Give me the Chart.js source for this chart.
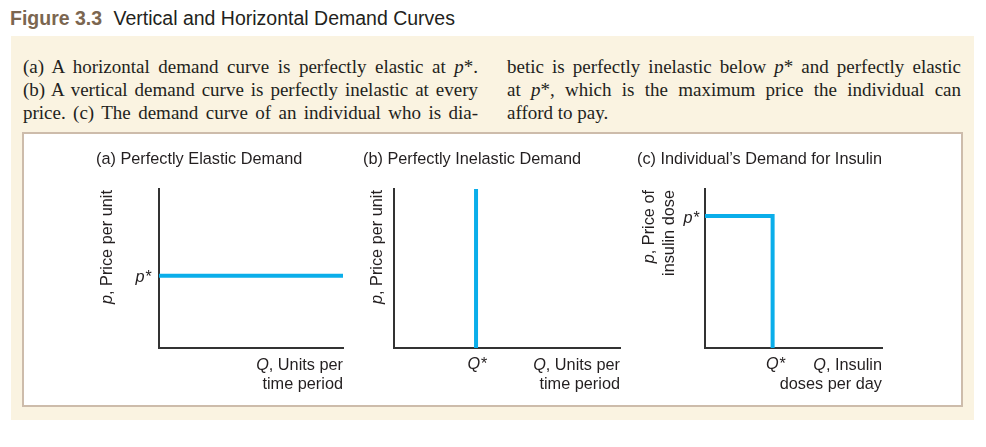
<!DOCTYPE html>
<html><head><meta charset="utf-8">
<script src="https://cdn.jsdelivr.net/npm/chart.js@4.4.1/dist/chart.umd.min.js"></script>
<style>
html,body{margin:0;padding:0;background:#fff;}
#page{position:relative;width:986px;height:447px;overflow:hidden;background:#fff;}
#hdr{position:absolute;left:10px;top:7px;font-family:'Liberation Sans',Arial,sans-serif;font-size:19.5px;line-height:22px;color:#231f20;white-space:nowrap;}
#hdr b{color:#7b6650;margin-right:6px;}
#beige{position:absolute;left:11px;top:36px;width:963px;height:384px;background:#faf3e1;}
.col{position:absolute;top:54.5px;font-family:'Liberation Serif','Times New Roman',serif;font-size:19px;line-height:23.3px;color:#231f20;}
.col div{text-align:justify;text-align-last:justify;}
.col div.last{text-align:left;text-align-last:left;}
#box{position:absolute;left:22px;top:132px;width:937px;height:271px;border:2px solid #cdbcab;background:#fff;}
canvas{position:absolute;}
</style></head>
<body>
<div id="page">
  <div id="hdr"><b>Figure 3.3</b> Vertical and Horizontal Demand Curves</div>
  <div id="beige"></div>
  <div class="col" style="left:23px;width:455px;">
    <div>(a) A horizontal demand curve is perfectly elastic at <i>p</i>*.</div>
    <div>(b) A vertical demand curve is perfectly inelastic at every</div>
    <div>price. (c) The demand curve of an individual who is dia-</div>
  </div>
  <div class="col" style="left:507px;width:454px;">
    <div>betic is perfectly inelastic below <i>p</i>* and perfectly elastic</div>
    <div>at <i>p</i>*, which is the maximum price the individual can</div>
    <div class="last">afford to pay.</div>
  </div>
  <div id="box"></div>
  <canvas id="cA"></canvas>
  <canvas id="cB"></canvas>
  <canvas id="cC"></canvas>
</div>
<script>
// ---- data ----
const panelTitles = ['(a) Perfectly Elastic Demand', '(b) Perfectly Inelastic Demand', '(c) Individual\u2019s Demand for Insulin'];
const elasticQ = [0, 10];
const elasticP = [4.55, 4.55];
const inelasticQ = [3.63, 3.63];
const inelasticP = [0, 10];
const insulinQ = [0, 3.82, 3.82];
const insulinP = [8.3, 8.3, 0];
const priceTickValues = [[4.55], [], [8.3]];
const priceTickLabels = [['p*'], [], ['p*']];
const quantityTickValues = [[], [3.63], [3.82]];
const quantityTickLabels = [[], ['Q*'], ['Q*']];
const yAxisTitles = [['p, Price per unit'], ['p, Price per unit'], ['p, Price of', 'insulin dose']];
const xAxisTitles = [['Q, Units per', 'time period'], ['Q, Units per', 'time period'], ['Q, Insulin', 'doses per day']];

// ---- layout / style ----
const SANS = "'Liberation Sans', Arial, Helvetica, sans-serif";
const FS = 16.3;
const TEXT = '#231f20';
const AXIS = '#333333';
const BLUE = '#0aaeea';
const panels = [
  {id:'cA', box:{x:85, y:136, w:275, h:268}, area:{l:159, t:189, r:343, b:348}, title:{x:96, y:164},
   yT:{xs:[112.2], top:190}, xT:{right:343, ys:[370, 389]}, yPad:8, xOff:1, q:elasticQ, p:elasticP},
  {id:'cB', box:{x:360, y:136, w:270, h:268}, area:{l:394, t:189, r:620, b:348}, title:{x:363, y:164},
   yT:{xs:[381.5], top:190}, xT:{right:620, ys:[370, 389]}, yPad:8, xOff:1, q:inelasticQ, p:inelasticP},
  {id:'cC', box:{x:630, y:136, w:325, h:268}, area:{l:705, t:189, r:882, b:348}, title:{x:637, y:164},
   yT:{xs:[653.5, 673.5], top:190}, xT:{right:882, ys:[370, 389]}, yPad:6, xOff:3, q:insulinQ, p:insulinP}
];

function segs(line) {
  const m = /^([pQ])(,.*)$/.exec(line);
  return m ? [[m[1], true], [m[2], false]] : [[line, false]];
}
function drawMixed(ctx, line, x, y, alignRight) {
  const parts = segs(line);
  let widths = parts.map(([t, it]) => { ctx.font = (it ? 'italic ' : '') + FS + 'px ' + SANS; return ctx.measureText(t).width; });
  let total = widths.reduce((a, b) => a + b, 0);
  let cx = alignRight ? x - total : x;
  parts.forEach(([t, it], i) => { ctx.font = (it ? 'italic ' : '') + FS + 'px ' + SANS; ctx.fillText(t, cx, y); cx += widths[i]; });
}

const textPlugin = {
  id: 'panelText',
  afterDraw(chart, args, o) {
    const ctx = chart.ctx;
    const P = o.panel, i = o.index;
    ctx.save();
    ctx.translate(-P.box.x, -P.box.y);
    ctx.fillStyle = TEXT;
    ctx.textBaseline = 'alphabetic';
    ctx.textAlign = 'left';
    ctx.font = FS + 'px ' + SANS;
    ctx.fillText(panelTitles[i], P.title.x, P.title.y);
    xAxisTitles[i].forEach((line, k) => drawMixed(ctx, line, P.xT.right, P.xT.ys[k], true));
    yAxisTitles[i].forEach((line, k) => {
      ctx.save();
      ctx.translate(P.yT.xs[k], P.yT.top);
      ctx.rotate(-Math.PI / 2);
      drawMixed(ctx, line, 0, 0, true);
      ctx.restore();
    });
    ctx.restore();
  }
};

panels.forEach((P, i) => {
  const cv = document.getElementById(P.id);
  cv.width = P.box.w; cv.height = P.box.h;
  cv.style.left = P.box.x + 'px'; cv.style.top = P.box.y + 'px';
  cv.style.width = P.box.w + 'px'; cv.style.height = P.box.h + 'px';
  const yW = P.area.l - P.box.x;
  const xH = P.box.y + P.box.h - P.area.b;
  const pad = {left: 0, top: P.area.t - P.box.y, right: P.box.x + P.box.w - P.area.r, bottom: 0};
  new Chart(cv, {
    type: 'scatter',
    data: {datasets: [{
      data: P.q.map((q, k) => ({x: q, y: P.p[k]})),
      showLine: true, borderColor: BLUE, backgroundColor: BLUE, borderWidth: 4,
      pointRadius: 0, pointHoverRadius: 0, tension: 0, fill: false, clip: false,
      borderCapStyle: 'butt', borderJoinStyle: 'miter'
    }]},
    options: {
      responsive: false, animation: false, devicePixelRatio: 1, events: [],
      layout: {padding: pad},
      plugins: {legend: {display: false}, tooltip: {enabled: false}, title: {display: false},
                panelText: {panel: P, index: i}},
      scales: {
        x: {type: 'linear', min: 0, max: 10,
            grid: {display: false, drawTicks: false},
            border: {display: true, color: AXIS, width: 2},
            afterFit: s => { s.height = xH; },
            afterBuildTicks: s => { s.ticks = quantityTickValues[i].map(v => ({value: v})); },
            ticks: {callback: (v, k) => quantityTickLabels[i][k], autoSkip: false, maxRotation: 0,
                    padding: 7, labelOffset: P.xOff, color: TEXT, font: {family: SANS, size: FS, style: 'italic'}}},
        y: {type: 'linear', min: 0, max: 10,
            grid: {display: false, drawTicks: false},
            border: {display: true, color: AXIS, width: 2},
            afterFit: s => { s.width = yW; },
            afterBuildTicks: s => { s.ticks = priceTickValues[i].map(v => ({value: v})); },
            ticks: {callback: (v, k) => priceTickLabels[i][k], autoSkip: false, labelOffset: 2,
                    padding: P.yPad, color: TEXT, font: {family: SANS, size: FS, style: 'italic'}}}
      }
    },
    plugins: [textPlugin]
  });
});
</script>
</body></html>
